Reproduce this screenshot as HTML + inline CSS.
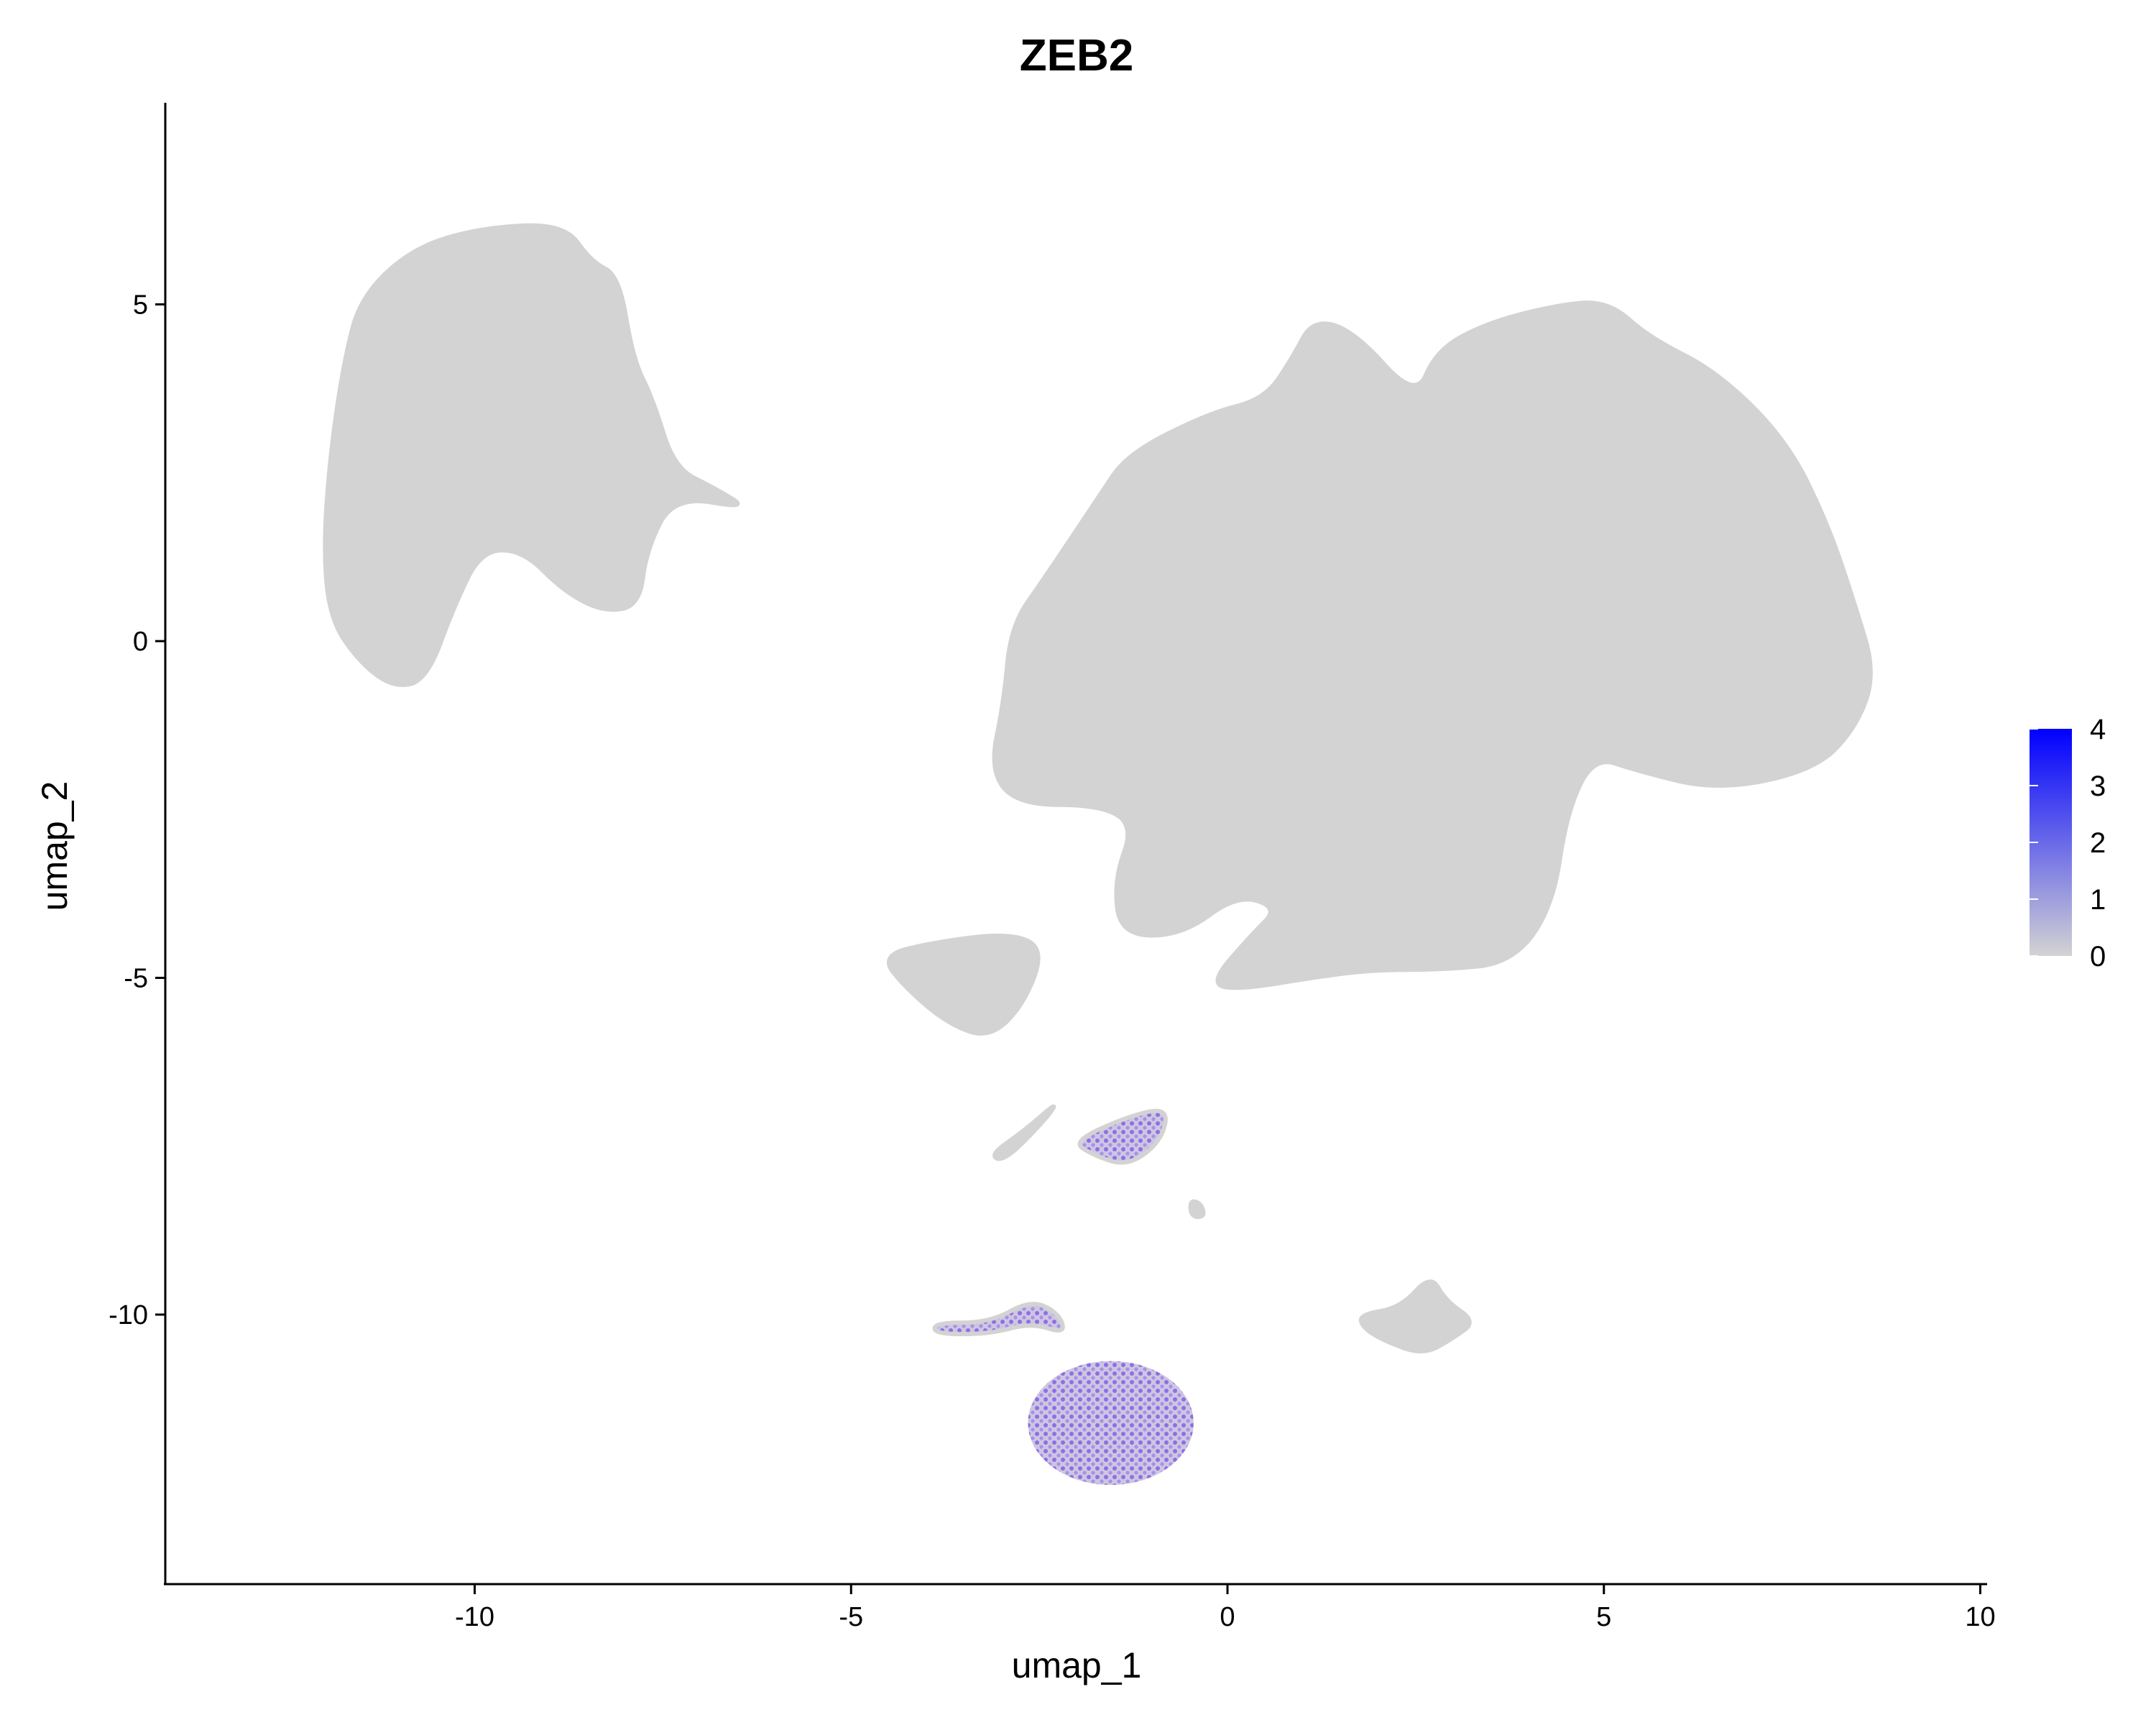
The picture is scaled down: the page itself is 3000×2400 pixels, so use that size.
<!DOCTYPE html>
<html><head><meta charset="utf-8"><style>
html,body{margin:0;padding:0;background:#fff;}
svg{display:block;font-family:"Liberation Sans",sans-serif;}
</style></head><body>
<svg id="chart" width="3000" height="2400" viewBox="0 0 3000 2400">
<defs>
<pattern id="purp" width="12" height="12" patternUnits="userSpaceOnUse">
<rect width="12" height="12" fill="#cdc6e2"/>
<circle cx="3" cy="3" r="3" fill="#8f6ee6"/>
<circle cx="9" cy="9" r="2.6" fill="#a890e6"/>
</pattern>
<linearGradient id="cbar" x1="0" y1="1" x2="0" y2="0">
<stop offset="0" stop-color="#d3d3d3"/><stop offset="1" stop-color="#0000ff"/>
</linearGradient>
</defs>
<text x="1498" y="98" font-size="62" font-weight="bold" text-anchor="middle">ZEB2</text>
<g id="clusters"></g>
<g id="axes"></g>
<text x="1498" y="2334" font-size="50" text-anchor="middle">umap_1</text>
<text x="0" y="0" font-size="50" text-anchor="middle" transform="translate(93,1177) rotate(-90)">umap_2</text>
<g>
<rect x="2824" y="1014" width="59" height="316" fill="url(#cbar)"/>
<g id="cbticks"></g>
</g>
</svg>
<script>
const xTicks=[-10,-5,0,5,10];
const yTicks=[5,0,-5,-10];
const cbValues=[0,1,2,3,4];
const clusterNames=["left-cluster","main-cluster","small-cluster-a","mid-purple-cluster","mid-streak","mid-dot","bottom-streak","right-small-cluster"];
const clusterPts=[
[[-11.51,5.12],[-10.82,5.84],[-9.91,6.14],[-8.81,6.20],[-8.45,5.63],[-8.08,5.43],[-7.90,4.20],[-7.63,3.59],[-7.35,2.57],[-6.81,2.27],[-6.35,1.96],[-7.35,2.16],[-7.72,1.35],[-7.81,0.53],[-8.27,0.43],[-8.81,0.73],[-9.36,1.35],[-9.91,1.35],[-10.27,0.53],[-10.64,-0.59],[-11.09,-0.69],[-11.55,-0.29],[-11.92,0.33],[-12.01,1.35],[-11.92,2.78],[-11.73,4.20]],
[[-2.88,0.22],[-2.43,0.94],[-1.70,2.16],[-1.33,2.78],[-0.24,3.39],[0.49,3.59],[0.86,4.20],[1.13,4.78],[1.68,4.61],[2.50,3.59],[2.77,4.31],[3.41,4.71],[4.32,4.98],[5.05,5.06],[5.60,4.51],[6.51,4.00],[7.43,2.98],[7.97,1.76],[8.34,0.53],[8.61,-0.49],[8.34,-1.31],[7.79,-1.92],[6.51,-2.22],[5.42,-1.92],[4.87,-1.71],[4.51,-2.53],[4.32,-3.96],[3.78,-4.78],[2.86,-4.88],[1.95,-4.88],[1.22,-4.98],[0.13,-5.18],[-0.24,-5.08],[0.31,-4.37],[0.68,-3.96],[0.13,-3.76],[-0.60,-4.37],[-1.42,-4.37],[-1.51,-3.55],[-1.24,-2.73],[-1.70,-2.43],[-2.79,-2.43],[-3.16,-1.92],[-2.97,-0.90]],
[[-4.62,-4.67],[-3.89,-4.47],[-2.88,-4.33],[-2.43,-4.57],[-2.70,-5.39],[-3.16,-5.90],[-3.70,-5.69],[-4.25,-5.18]],
[[-2.06,-7.43],[-1.33,-7.06],[-0.78,-6.92],[-0.88,-7.43],[-1.33,-7.80],[-1.79,-7.63]],
[[-3.16,-7.63],[-2.70,-7.27],[-2.24,-6.82],[-2.43,-7.12],[-2.97,-7.73]],
[[-0.50,-8.30],[-0.35,-8.35],[-0.30,-8.55],[-0.48,-8.55]],
[[-3.89,-10.12],[-3.16,-10.12],[-2.61,-9.78],[-2.24,-9.98],[-2.15,-10.29],[-2.61,-10.12],[-3.16,-10.29],[-3.89,-10.29]],
[[1.75,-10.0],[2.3,-9.9],[2.7,-9.4],[2.9,-9.8],[3.3,-10.1],[3.0,-10.35],[2.6,-10.6],[2.1,-10.4],[1.8,-10.2]]
];
const clusterPurple=[false,false,false,true,false,false,true,false];
const roundCluster=[-1.55,-11.61,1.1,0.92];

function X(v){return 1708+v*104.75;}
function Y(v){return 892-v*93.7;}
const NS="http://www.w3.org/2000/svg";
const cg=document.getElementById('clusters');
function smoothPath(pts){
  const p=pts.map(d=>[X(d[0]),Y(d[1])]);const n=p.length;
  let s=`M${(p[0][0]+p[1][0])/2},${(p[0][1]+p[1][1])/2}`;
  for(let i=1;i<=n;i++){const a=p[i%n],b=p[(i+1)%n];s+=` Q${a[0]},${a[1]} ${(a[0]+b[0])/2},${(a[1]+b[1])/2}`;}
  return s+'Z';
}
clusterPts.forEach((pts,i)=>{
  const e=document.createElementNS(NS,'path');
  e.setAttribute('d',smoothPath(pts));
  e.setAttribute('fill',clusterPurple[i]?'url(#purp)':'#d3d3d3');
  e.setAttribute('stroke','#d3d3d3');e.setAttribute('stroke-width','6');
  
  
  cg.appendChild(e);
});
const rc=document.createElementNS(NS,'ellipse');
rc.setAttribute('cx',X(roundCluster[0]));rc.setAttribute('cy',Y(roundCluster[1]));
rc.setAttribute('rx',roundCluster[2]*104.75);rc.setAttribute('ry',roundCluster[3]*93.7);
rc.setAttribute('fill','url(#purp)');


cg.appendChild(rc);

const ax=document.getElementById('axes');
function line(x1,y1,x2,y2,name){const l=document.createElementNS(NS,'line');l.setAttribute('x1',x1);l.setAttribute('y1',y1);l.setAttribute('x2',x2);l.setAttribute('y2',y2);l.setAttribute('stroke','#000');l.setAttribute('stroke-width','3');


ax.appendChild(l);}
function text(x,y,t,anchor,size,name,parent){const e=document.createElementNS(NS,'text');e.setAttribute('x',x);e.setAttribute('y',y);e.setAttribute('text-anchor',anchor);e.setAttribute('font-size',size);e.setAttribute('fill','#000');e.textContent=t;


parent.appendChild(e);}
line(230,143,230,2205,'y-axis-line');
line(228,2204,2765,2204,'x-axis-line');
xTicks.forEach(v=>{line(X(v),2204,X(v),2218,'x-tick');text(X(v),2262,String(v),'middle',38,'x-tick-label',ax);});
yTicks.forEach(v=>{line(216,Y(v),230,Y(v),'y-tick');text(206,Y(v)+13,String(v),'end',38,'y-tick-label',ax);});
const cb=document.getElementById('cbticks');
cbValues.forEach(v=>{const y=1330-v*(316/4);
 const l=document.createElementNS(NS,'line');l.setAttribute('x1',2824);l.setAttribute('x2',2836);l.setAttribute('y1',y);l.setAttribute('y2',y);l.setAttribute('stroke','#fff');l.setAttribute('stroke-width','2');
 
 
 cb.appendChild(l);
 text(2908,y+14,String(v),'start',40,'colorbar-label',cb);});
</script>
</body></html>
